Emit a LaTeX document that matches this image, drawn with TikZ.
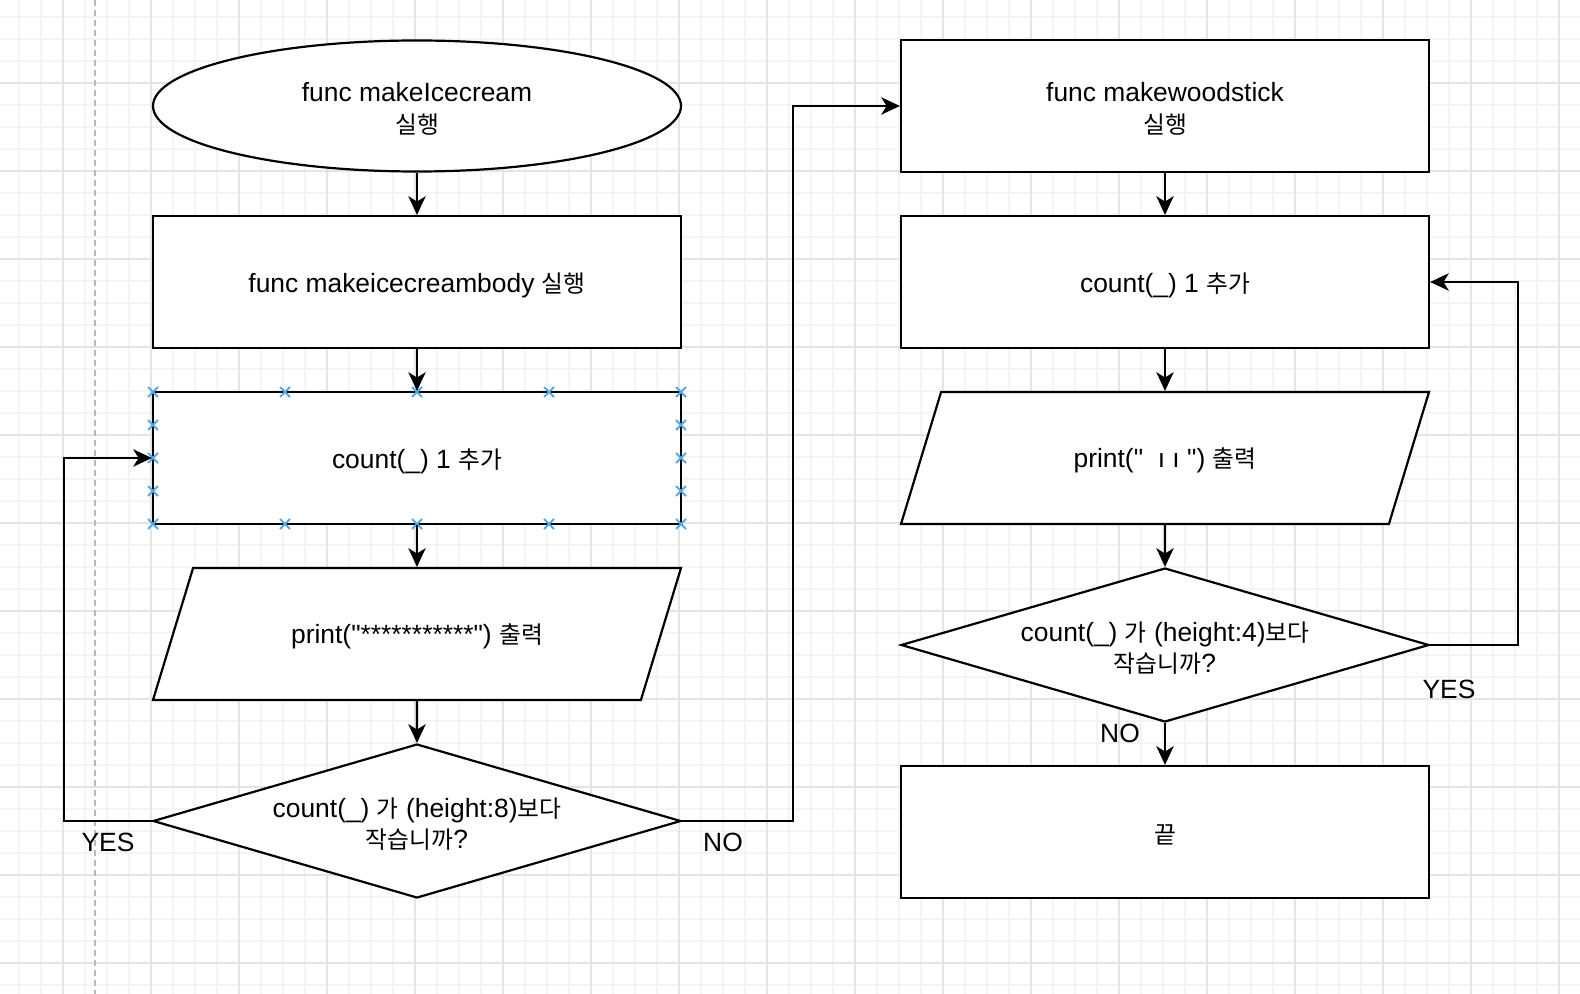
\documentclass[tikz,border=0pt]{standalone}
\usepackage{fontspec}
\setmainfont{Liberation Sans}[Ligatures=TeXOff]
\newfontfamily\kr{Noto Sans CJK KR}[Scale=0.9]
\usetikzlibrary{shapes.geometric,arrows.meta}

\definecolor{gridminor}{RGB}{244,244,244}
\definecolor{gridmajor}{RGB}{228,228,228}
\definecolor{guidegray}{RGB}{185,185,185}
\definecolor{handleblue}{RGB}{80,170,232}

\tikzset{
  txt/.style={inner sep=0pt, align=center, font=\fontsize{19.8pt}{23.8pt}\selectfont},
  intxt/.style={txt, yshift=-2.25pt},
  shapeline/.style={draw=black, line width=1.65pt, fill=white, inner sep=0pt},
  proc/.style={shapeline, rectangle, minimum width=396pt, minimum height=99pt},
  term/.style={shapeline, ellipse, minimum width=396pt, minimum height=98.25pt},
  io/.style={shapeline, txt, trapezium, trapezium left angle=73.1, trapezium right angle=106.9,
    trapezium stretches body=true, text height=16.25pt, text depth=1.75pt, inner xsep=0pt,
    inner ysep=40.5pt, minimum width=396pt, minimum height=99pt},
  decision/.style={shapeline, diamond, minimum width=396pt, minimum height=115.5pt},
  flow/.style={draw=black, line width=1.65pt, -{Stealth[length=14pt,width=13pt,inset=4pt]}},
  handle/.style={handleblue, line width=1.4pt},
}

\begin{document}
\begin{tikzpicture}[x=0.75pt,y=0.75pt,yscale=-1,xscale=1]
  % background and grid
  \fill[white] (0,0) rectangle (1580,994);
  \useasboundingbox (0,0) rectangle (1580,994);
  \foreach \x in {19,41,...,1580} \draw[gridminor, line width=1.1pt] (\x,0) -- (\x,994);
  \foreach \y in {17,39,...,994} \draw[gridminor, line width=1.1pt] (0,\y) -- (1580,\y);
  \foreach \x in {63,151,...,1580} \draw[gridmajor, line width=1.1pt] (\x,0) -- (\x,994);
  \foreach \y in {83,171,...,994} \draw[gridmajor, line width=1.1pt] (0,\y) -- (1580,\y);
  \draw[guidegray, line width=1.1pt, dash pattern={on 4.5pt off 3pt}] (95,0) -- (95,994);

  % left column
  \node[term, label={[intxt]center:{func makeIcecream\\{\kr 실행}}}] (start) at (417,106) {};
  \node[proc, label={[intxt]center:{func makeicecreambody {\kr 실행}}}] (body) at (417,282) {};
  \node[proc, label={[intxt]center:{count(\_) 1 {\kr 추가}}}] (cnt1) at (417,458) {};
  \node[io] (print1) at (417,634) {print("***********") {\kr 출력}};
  \node[decision, label={[intxt]center:{count(\_) {\kr 가} (height:8){\kr 보다}\\{\kr 작습니까}?}}] (test1) at (417,821) {};

  % selection handles
  \foreach \x in {153,285,417,549,681}
    \foreach \y in {392,524}
      \draw[handle] (\x-5,\y-5) -- ++(10,10) (\x-5,\y+5) -- ++(10,-10);
  \foreach \x in {153,681}
    \foreach \y in {425,458,491}
      \draw[handle] (\x-5,\y-5) -- ++(10,10) (\x-5,\y+5) -- ++(10,-10);

  % right column
  \node[proc, label={[intxt]center:{func makewoodstick\\{\kr 실행}}}] (stick) at (1165,106) {};
  \node[proc, label={[intxt]center:{count(\_) 1 {\kr 추가}}}] (cnt2) at (1165,282) {};
  \node[io] (print2) at (1165,458) {print("\ \ ı\ ı\ ") {\kr 출력}};
  \node[decision, label={[intxt]center:{count(\_) {\kr 가} (height:4){\kr 보다}\\{\kr 작습니까}?}}] (test2) at (1165,645) {};
  \node[proc, label={[intxt]center:{\kr 끝}}] (done) at (1165,832) {};

  % connectors
  \draw[flow] (start) -- (body);
  \draw[flow] (body) -- (cnt1);
  \draw[flow] (cnt1) -- (print1);
  \draw[flow] (print1) -- (test1);
  \draw[flow] (test1.west) -- ++(-88,0) |- (cnt1.west);
  \draw[flow] (test1.east) -- ++(111,0) |- (stick.west);
  \draw[flow] (stick) -- (cnt2);
  \draw[flow] (cnt2) -- (print2);
  \draw[flow] (print2) -- (test2);
  \draw[flow] (test2.east) -- ++(88,0) |- (cnt2.east);
  \draw[flow] (test2) -- (done);

  % branch labels
  \node[txt] (yes1) at (108,842) {YES};
  \node[txt] (no1) at (723,842) {NO};
  \node[txt] (yes2) at (1449,689) {YES};
  \node[txt] (no2) at (1120,733) {NO};
\end{tikzpicture}
\end{document}
